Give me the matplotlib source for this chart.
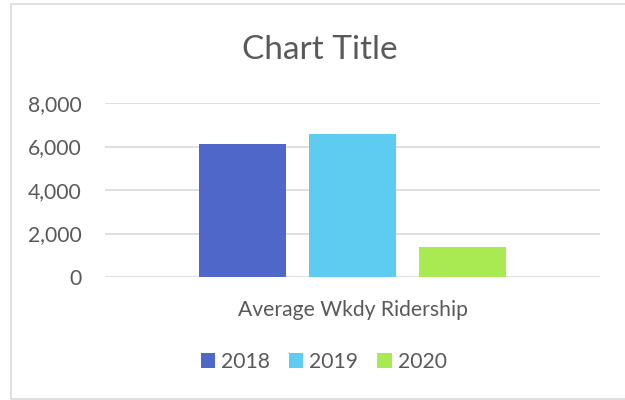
import matplotlib
import matplotlib.pyplot as plt
import matplotlib.ticker as mticker
from matplotlib.patches import Rectangle
import numpy as np

matplotlib.use('agg')

categories = ['Average Wkdy Ridership']
years = ['2018', '2019', '2020']
ridership = [6100, 6560, 1370]
colors = ['#4F67C8', '#5ECBF1', '#A9E951']
text_color = '#595959'

plt.rcParams['font.family'] = ['Lato', 'DejaVu Sans']

fig = plt.figure(figsize=(6.25, 4.0), dpi=100)
ax = fig.add_axes([0.168, 0.3075, 0.792, 0.435])

x = np.arange(len(categories))
width = 0.176
step = 0.222
for i, (year, val, col) in enumerate(zip(years, ridership, colors)):
    ax.bar(x + (i - 1) * step, [val], width, color=col, label=year, zorder=3)

ax.set_xlim(-0.5, 0.5)
ax.set_ylim(0, 8000)
ax.set_yticks(np.arange(0, 8001, 2000))
ax.yaxis.set_major_formatter(mticker.FuncFormatter(lambda v, p: f'{int(v):,}'))
ax.grid(axis='y', color='#D9D9D9', linewidth=1.2, zorder=0)
ax.set_xticks(x)
ax.set_xticklabels(categories)
for s in ax.spines.values():
    s.set_visible(False)
ax.tick_params(axis='both', length=0, colors=text_color, labelsize=15.2)
ax.tick_params(axis='x', pad=16.5)
ax.tick_params(axis='y', pad=17)

fig.text(0.512, 0.875, 'Chart Title', ha='center', va='center',
         fontsize=24, color=text_color)

fig.legend(loc='center', bbox_to_anchor=(0.518, 0.095), ncol=3, frameon=False,
           fontsize=15.2, labelcolor=text_color, handlelength=0.67,
           handleheight=0.67, handletextpad=0.3, columnspacing=0.9)

fig.patches.append(Rectangle((11 / 625, 1 / 400), 1.2, 395 / 400,
                             transform=fig.transFigure, fill=False,
                             edgecolor='#D9D9D9', linewidth=1.2))

plt.savefig('out.png', dpi=100)
